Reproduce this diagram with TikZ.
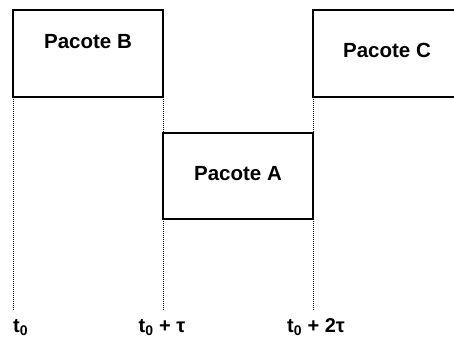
\documentclass[tikz,border=0pt]{standalone}
\usepackage{fontspec}
\setmainfont{Liberation Sans}
\usetikzlibrary{positioning, calc}

\begin{document}
\begin{tikzpicture}[
    x=1pt, y=1pt,
    pkt/.style={
        draw=black, line width=1.5pt, outer sep=0pt,
        minimum width=150pt, minimum height=87pt
    },
    pkttext/.style={font=\fontsize{20.5}{24}\selectfont\bfseries, anchor=base, inner sep=0pt},
    timeline/.style={densely dotted, line width=1pt},
    timelabel/.style={font=\fontsize{20}{24}\selectfont\bfseries, anchor=base, inner sep=0pt}
]
\useasboundingbox (0,0) rectangle (454,338);
\clip (0,0) rectangle (454,338);

% Packets: B in the first slot, A one slot later and lower, C after A
\node[pkt] (pktB) at (88,284.5) {};
\node[pkt, anchor=north west, minimum height=86pt] (pktA) at ($(pktB.south east)+(0,-36)$) {};
\node[pkt, anchor=south west] (pktC) at ($(pktA.north east)+(0,36)$) {};

% Packet names
\node[pkttext] (nameB) at ($(pktB.north)+(0,-39)$) {Pacote B};
\node[pkttext] (nameA) at ($(pktA.north)+(0,-47)$) {Pacote A};
\node[pkttext] (nameC) at ($(pktC.north)+(-1,-48)$) {Pacote C};

% Time marks
\coordinate (mark0) at ($(pktB.south west)+(0,-213)$);
\coordinate (mark1) at ($(pktB.south east)+(0,-213)$);
\coordinate (mark2) at ($(pktC.south west)+(0,-213)$);

\draw[timeline] (pktB.south west) -- (mark0);
\draw[timeline] (pktB.south east) -- (mark1);
\draw[timeline] (pktC.south west) -- (mark2);

\node[timelabel, anchor=base west] (lbl0) at ($(mark0)+(0,-22)$) {t\textsubscript{0}};
\node[timelabel] (lbl1) at ($(mark1)+(-1,-22)$) {t\textsubscript{0} + τ};
\node[timelabel] (lbl2) at ($(mark2)+(3,-22)$) {t\textsubscript{0} + 2τ};

\end{tikzpicture}
\end{document}
